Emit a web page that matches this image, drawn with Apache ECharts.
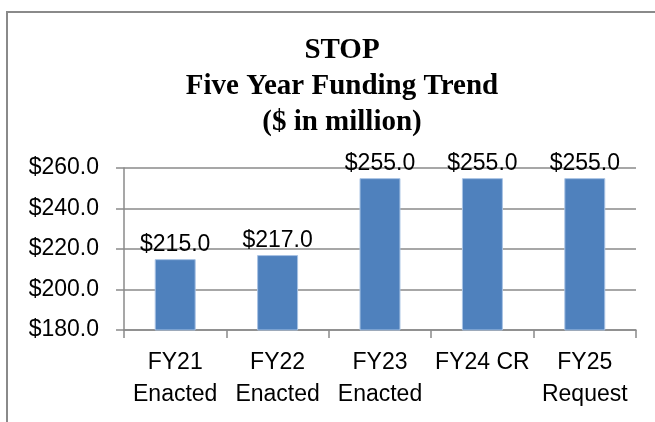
<!DOCTYPE html>
<html>
<head>
<meta charset="utf-8">
<script src="https://cdn.jsdelivr.net/npm/echarts@6/dist/echarts.min.js"></script>
<style>
html,body{margin:0;padding:0;background:#fff;}
#main{width:655px;height:422px;}
</style>
</head>
<body>
<div id="main"></div>
<script>
var categories = ['FY21\nEnacted', 'FY22\nEnacted', 'FY23\nEnacted', 'FY24 CR', 'FY25\nRequest'];
var funding = [215, 217, 255, 255, 255];
var yMin = 180, yMax = 260, yStep = 20;

var chart = echarts.init(document.getElementById('main'));
var option = {
    animation: false,
    title: {
        text: 'STOP\nFive Year Funding Trend\n($ in million)',
        left: 337,
        top: 28,
        textAlign: 'center',
        textStyle: {
            fontFamily: 'Liberation Serif',
            fontWeight: 'bold',
            fontSize: 29,
            lineHeight: 36,
            color: '#000'
        }
    },
    graphic: [{
        type: 'rect',
        shape: { x: 7, y: 12, width: 660, height: 440 },
        style: { fill: 'none', stroke: '#8a8a8a', lineWidth: 2 },
        silent: true
    }],
    grid: { left: 124, right: 19, top: 168, bottom: 92 },
    xAxis: {
        type: 'category',
        data: categories,
        axisLine: { lineStyle: { color: '#8a8a8a', width: 1.5 } },
        axisTick: { show: true, length: 8, lineStyle: { color: '#8a8a8a', width: 1.5 } },
        axisLabel: {
            interval: 0,
            color: '#000',
            fontFamily: 'Liberation Sans',
            fontSize: 23,
            lineHeight: 32,
            margin: 17
        }
    },
    yAxis: {
        type: 'value',
        min: yMin,
        max: yMax,
        interval: yStep,
        axisLine: { show: true, lineStyle: { color: '#8a8a8a', width: 1.5 } },
        axisTick: { show: true, length: 8, lineStyle: { color: '#8a8a8a', width: 1.5 } },
        splitLine: { lineStyle: { color: '#8a8a8a', width: 1.5 } },
        axisLabel: {
            color: '#000',
            fontFamily: 'Liberation Sans',
            fontSize: 23,
            margin: 25,
            formatter: function (v) { return '$' + v.toFixed(1); }
        }
    },
    series: [{
        type: 'bar',
        data: funding,
        barWidth: '40%',
        itemStyle: { color: '#4f81bd', borderColor: '#a9c3e4', borderWidth: 1 },
        label: {
            show: true,
            position: 'top',
            distance: 3,
            color: '#000',
            fontFamily: 'Liberation Sans',
            fontSize: 23,
            formatter: function (p) { return '$' + p.value.toFixed(1); }
        }
    }]
};
chart.setOption(option);
</script>
</body>
</html>
